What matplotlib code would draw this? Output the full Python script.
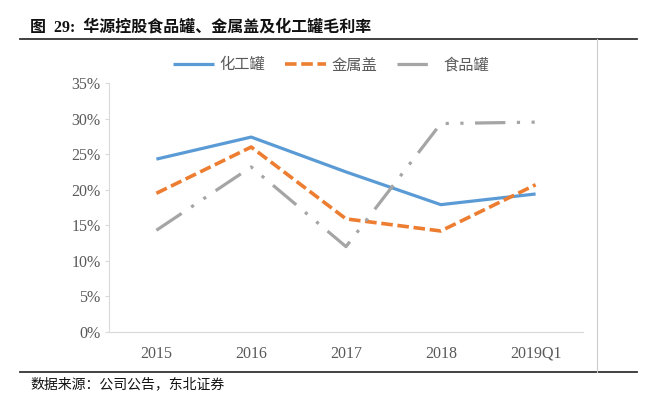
import numpy as np
import matplotlib
matplotlib.use("Agg")
import matplotlib.pyplot as plt
from matplotlib.lines import Line2D
from matplotlib.ticker import PercentFormatter

plt.rcParams['font.family'] = ['Liberation Serif', 'Noto Sans CJK SC', 'DejaVu Sans']

# 数据 (毛利率)
years = ["2015", "2016", "2017", "2018", "2019Q1"]
chem_can = [0.243, 0.274, 0.225, 0.179, 0.194]    # 化工罐
metal_cap = [0.195, 0.260, 0.159, 0.142, 0.207]   # 金属盖
food_can = [0.143, 0.232, 0.120, 0.293, 0.295]    # 食品罐
yticks = [0, 0.05, 0.10, 0.15, 0.20, 0.25, 0.30, 0.35]

W, H = 671, 399
fig = plt.figure(figsize=(W / 100, H / 100), dpi=100)

ax = fig.add_axes([109 / W, 1 - 332 / H, (583 - 109) / W, (332 - 83) / H])
x = np.arange(len(years))

ax.plot(x, chem_can, color="#5B9BD5", lw=2.3, solid_capstyle="butt", label="化工罐")
ax.plot(x, metal_cap, color="#ED7D31", lw=2.6, ls=(0, (3.2, 1.3)), label="金属盖")
ax.plot(x, food_can, color="#A5A5A5", lw=2.3, ls=(0, (9.5, 3.6, 1.0, 3.6, 1.0, 3.6)), label="食品罐")

ax.set_xlim(-0.5, len(years) - 0.5)
ax.set_ylim(0, 0.35)
ax.set_yticks(yticks)
ax.yaxis.set_major_formatter(PercentFormatter(1.0, decimals=0))
ax.set_xticks(x)
ax.set_xticklabels(years)

for s in ["top", "right"]:
    ax.spines[s].set_visible(False)
for s in ["left", "bottom"]:
    ax.spines[s].set_color("#D9D9D9")
    ax.spines[s].set_linewidth(0.8)
ax.tick_params(axis="y", length=3, width=0.8, color="#D9D9D9", labelsize=11.5,
               labelcolor="#595959", pad=3)
ax.tick_params(axis="x", length=0, labelsize=11.5, labelcolor="#595959", pad=10)

leg = fig.legend(loc="center", bbox_to_anchor=(331 / W, 1 - 65 / H), ncol=3,
                 frameon=False, handlelength=2.7, handletextpad=0.35,
                 columnspacing=1.3, labelcolor="#595959",
                 prop={'family': ['Noto Sans CJK SC'], 'size': 11})

# 标题和分隔线
fig.text(30 / W, 1 - 27 / H, "图  29:  华源控股食品罐、金属盖及化工罐毛利率",
         fontsize=11.5, fontweight="bold", va="center", ha="left", color="#111111")
fig.add_artist(Line2D([20 / W, 637 / W], [1 - 39 / H, 1 - 39 / H], color="#333333", lw=1.3))
fig.add_artist(Line2D([20 / W, 637 / W], [1 - 372 / H, 1 - 372 / H], color="#333333", lw=1.3))
fig.add_artist(Line2D([597 / W, 597 / W], [1 - 39 / H, 1 - 372 / H], color="#CCCCCC", lw=0.8))

fig.text(30 / W, 1 - 384 / H, "数据来源：公司公告，东北证券", fontsize=10,
         va="center", ha="left", color="#111111",
         family=['Noto Sans CJK SC', 'DejaVu Sans'])

fig.savefig("out.png", dpi=100)
